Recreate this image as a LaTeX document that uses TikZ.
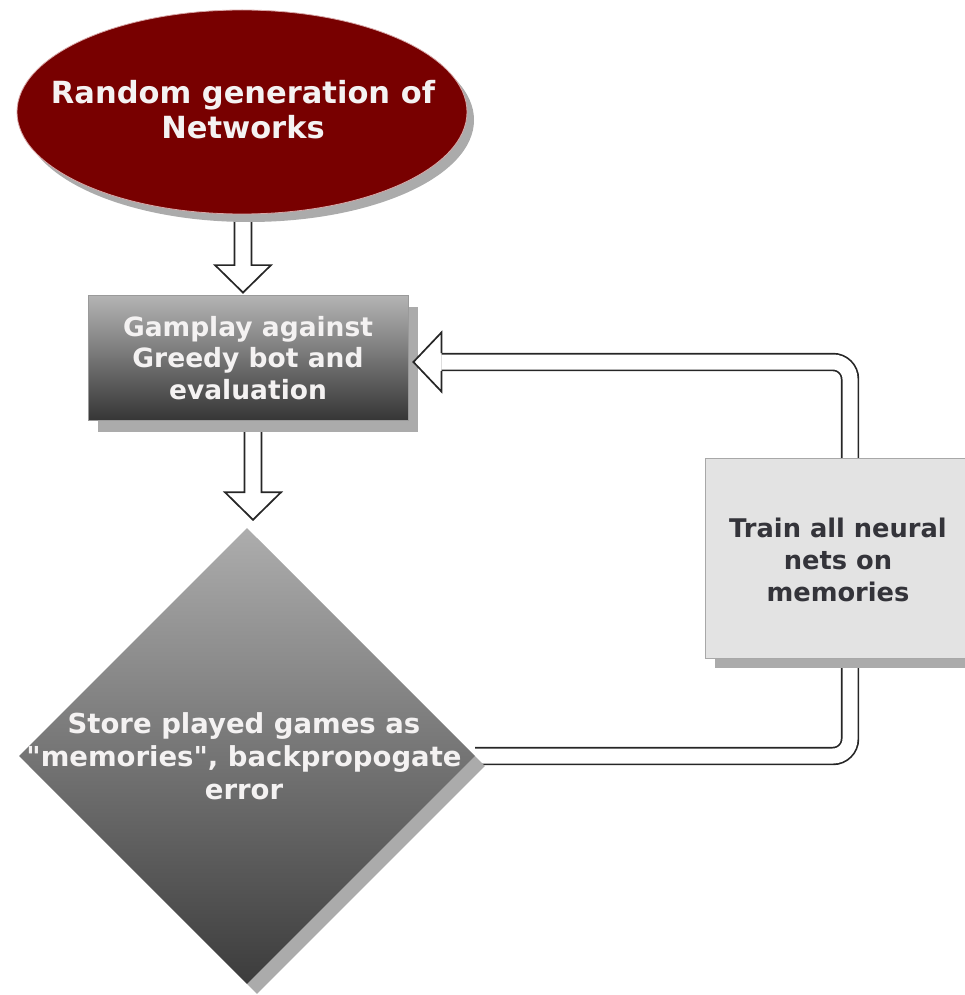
\documentclass[tikz,border=0pt]{standalone}
\usepackage{fontspec}
\setmainfont{DejaVu Sans}
\usetikzlibrary{shapes.geometric,shadows,calc,backgrounds}

\definecolor{netred}{HTML}{780000}
\definecolor{ellrim}{HTML}{D8A8A8}
\definecolor{shadowgray}{HTML}{ABABAB}
\definecolor{boxtop}{HTML}{B4B4B4}
\definecolor{boxbottom}{HTML}{363636}
\definecolor{dmdtop}{HTML}{ADADAD}
\definecolor{dmdbottom}{HTML}{3C3C3C}
\definecolor{boxrim}{HTML}{9A9A9A}
\definecolor{trainfill}{HTML}{E3E3E3}
\definecolor{trainrim}{HTML}{A8A8A8}
\definecolor{darktext}{HTML}{34343A}
\definecolor{lighttext}{HTML}{F4F2F2}
\definecolor{arrowline}{HTML}{262626}

% vertical hollow block arrow: shaft starts at the height of #1, tip at #2
\newcommand{\vblockarrow}[2]{%
  \draw[hollow] let \p1=(#1), \p2=(#2) in
    (\x2-8.5pt,\y1) -- (\x2-8.5pt,\y2+27.5pt) -- (\x2-28pt,\y2+27.5pt)
    -- (\x2,\y2) -- (\x2+28pt,\y2+27.5pt) -- (\x2+8.5pt,\y2+27.5pt)
    -- (\x2+8.5pt,\y1);}

\begin{document}
\begin{tikzpicture}[x=1pt,y=-1pt,
  dropshade/.style={general shadow={fill=shadowgray, shadow xshift=#1, shadow yshift=-#1}},
  startell/.style={ellipse, minimum width=450, minimum height=204, inner sep=0pt,
    fill=netred, draw=ellrim, line width=0.8pt,
    general shadow={fill=shadowgray, shadow xshift=7pt, shadow yshift=-8pt}},
  gamebox/.style={rectangle, minimum width=320, minimum height=125, inner sep=0pt,
    top color=boxtop, bottom color=boxbottom, draw=boxrim, line width=0.8pt,
    general shadow={fill=shadowgray, shadow xshift=10pt, shadow yshift=-12pt}},
  storedmd/.style={diamond, minimum width=456, minimum height=456, inner sep=0pt,
    top color=dmdtop, bottom color=dmdbottom, dropshade=10pt},
  trainbox/.style={rectangle, minimum width=262, minimum height=200, inner sep=0pt,
    fill=trainfill, draw=trainrim, line width=0.8pt, dropshade=10pt},
  label/.style={align=center, inner sep=0pt},
  hollow/.style={fill=white, draw=arrowline, line width=1.7pt, line join=miter},
  hollowline/.style={draw=arrowline, line width=1.7pt, line join=miter},
  dbl/.style={draw=arrowline, line width=1.7pt, double=white, double distance=15pt,
    rounded corners=17pt}]

\useasboundingbox (0,0) rectangle (965,995);

% nodes
\node[startell] (ell) at (242,112) {};
\node[label, text=lighttext, font=\fontsize{30.5}{35}\selectfont\bfseries]
  (elltext) at (243,110) {Random generation of\\Networks};

\node[gamebox] (gp) at (248,357.5) {};
\node[label, text=lighttext, font=\fontsize{26.5}{31.5}\selectfont\bfseries]
  (gptext) at (248,358) {Gamplay against\\Greedy bot and\\evaluation};

\node[storedmd] (st) at (247,756) {};
\node[label, text=lighttext, font=\fontsize{27.5}{33}\selectfont\bfseries]
  (sttext) at (244,756) {Store played games as\\\textquotedbl memories\textquotedbl, backpropogate\\error};

\node[trainbox] (tr) at (836,558) {};
\node[label, text=darktext, font=\fontsize{25.7}{32}\selectfont\bfseries]
  (trtext) at (838,560) {Train all neural\\nets on\\memories};

% connector end points
\coordinate (tip1) at ($(gp.north)+(-5,-2)$);
\coordinate (tip2) at ($(st.north)+(6,-8)$);
\coordinate (fbtip) at ($(gp.east)+(5,4.5)$);
\coordinate (bend) at (850,362);

% connectors behind the shapes
\begin{pgfonlayer}{background}
  \vblockarrow{ell.south}{tip1}
  \vblockarrow{gp.south}{tip2}
  \draw[dbl] (st.east) -- (st.east -| bend) -- (bend) -- ($(fbtip)+(28,0)$);
\end{pgfonlayer}

% head of the feedback arrow
\fill[white] ($(fbtip)+(28,-29.5)$) -- (fbtip) -- ($(fbtip)+(28,29.5)$) -- cycle;
\draw[hollowline] ($(fbtip)+(28,-9)$) -- ($(fbtip)+(28,-29.5)$) -- (fbtip)
  -- ($(fbtip)+(28,29.5)$) -- ($(fbtip)+(28,9)$);

\end{tikzpicture}
\end{document}
